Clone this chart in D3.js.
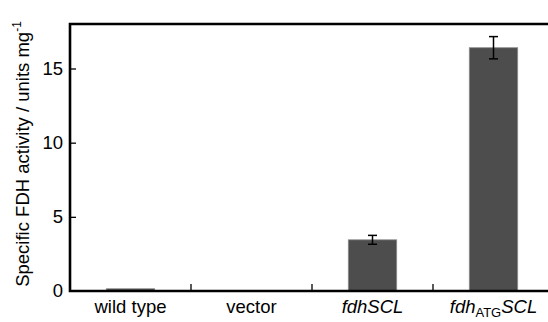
<!DOCTYPE html>
<html>
<head>
<meta charset="utf-8">
<script src="https://cdn.jsdelivr.net/npm/d3@7"></script>
<style>
    body { margin: 0; background: white; }
    svg { display: block; }
</style>
</head>
<body>
<div id="vis"></div>
<script>
// data
const categories = ['wild type', 'vector', 'fdhSCL', 'fdhATGSCL'];
const activity = [0.15, 0, 3.45, 16.4];
const errors = [0, 0, 0.3, 0.75];
const yTicks = [0, 5, 10, 15];

const width = 548;
const height = 322;
const margin = {top: 24, right: -6, bottom: 31, left: 70};
const font = 'Liberation Sans, Arial, sans-serif';

const svg = d3.select('#vis')
    .append('svg')
    .attr('width', width)
    .attr('height', height);

const x = d3.scaleBand()
    .domain(categories)
    .range([margin.left, width - margin.right])
    .padding(0);

const y = d3.scaleLinear()
    .domain([0, 18])
    .range([height - margin.bottom, margin.top]);

const barWidth = x.bandwidth() * 0.4;

// bars
svg.selectAll('.bar')
    .data(categories)
    .enter()
    .append('rect')
    .attr('class', 'bar')
    .attr('x', (d) => x(d) + (x.bandwidth() - barWidth) / 2)
    .attr('y', (d, i) => y(activity[i]))
    .attr('width', barWidth)
    .attr('height', (d, i) => y(0) - y(activity[i]))
    .attr('fill', '#4d4d4d')
    .attr('stroke', '#8a8a8a')
    .attr('stroke-width', 0.8);

// error bars
categories.forEach((c, i) => {
    if (errors[i] <= 0) return;
    const cx = x(c) + x.bandwidth() / 2;
    const g = svg.append('g')
        .attr('stroke', 'black')
        .attr('stroke-width', 1.5);
    g.append('line')
        .attr('x1', cx).attr('x2', cx)
        .attr('y1', y(activity[i] - errors[i]))
        .attr('y2', y(activity[i] + errors[i]));
    [activity[i] - errors[i], activity[i] + errors[i]].forEach((v) => {
        g.append('line')
            .attr('x1', cx - 4.5).attr('x2', cx + 4.5)
            .attr('y1', y(v)).attr('y2', y(v));
    });
});

// frame (left, top, bottom)
svg.append('path')
    .attr('d', 'M' + (width + 5) + ',' + y(18) + 'H' + margin.left + 'V' + y(0) + 'H' + (width + 5))
    .attr('fill', 'none')
    .attr('stroke', 'black')
    .attr('stroke-width', 2.6);

// y axis
const yAxis = svg.append('g')
    .attr('transform', 'translate(' + margin.left + ',0)')
    .call(d3.axisLeft(y).tickValues(yTicks).tickSize(0).tickPadding(7));
yAxis.select('.domain').remove();
yAxis.selectAll('text')
    .attr('font-family', font)
    .attr('font-size', '18.5px')
    .attr('fill', 'black');
yAxis.selectAll('.tick')
    .filter((d) => d > 0)
    .append('line')
    .attr('x1', -1).attr('x2', 6)
    .attr('stroke', 'black')
    .attr('stroke-width', 1.3);

// x axis: separator ticks between categories
categories.slice(1).forEach((c) => {
    svg.append('line')
        .attr('x1', x(c)).attr('x2', x(c))
        .attr('y1', y(0)).attr('y2', y(0) - 7)
        .attr('stroke', 'black')
        .attr('stroke-width', 1.3);
});

const labels = [
    [{t: 'wild type'}],
    [{t: 'vector'}],
    [{t: 'fdhSCL', italic: true}],
    [{t: 'fdh', italic: true}, {t: 'ATG', sub: true}, {t: 'SCL', italic: true}]
];

categories.forEach((c, i) => {
    const txt = svg.append('text')
        .attr('x', x(c) + x.bandwidth() / 2)
        .attr('y', 313)
        .attr('text-anchor', 'middle')
        .attr('font-family', font)
        .attr('font-size', '18.5px')
        .attr('fill', 'black');
    labels[i].forEach((p) => {
        const ts = txt.append('tspan').text(p.t);
        if (p.italic) ts.attr('font-style', 'italic');
        if (p.sub) ts.attr('font-size', '13px').attr('dy', 4);
        else if (txt.selectAll('tspan').size() > 1) ts.attr('dy', -4);
    });
});

// y axis title
const title = svg.append('text')
    .attr('transform', 'translate(29,' + 154 + ') rotate(-90)')
    .attr('text-anchor', 'middle')
    .attr('font-family', font)
    .attr('font-size', '18.5px')
    .attr('fill', 'black');
title.append('tspan').text('Specific FDH activity / units mg');
title.append('tspan').text('-1').attr('font-size', '12px').attr('dy', -8);
</script>
</body>
</html>
